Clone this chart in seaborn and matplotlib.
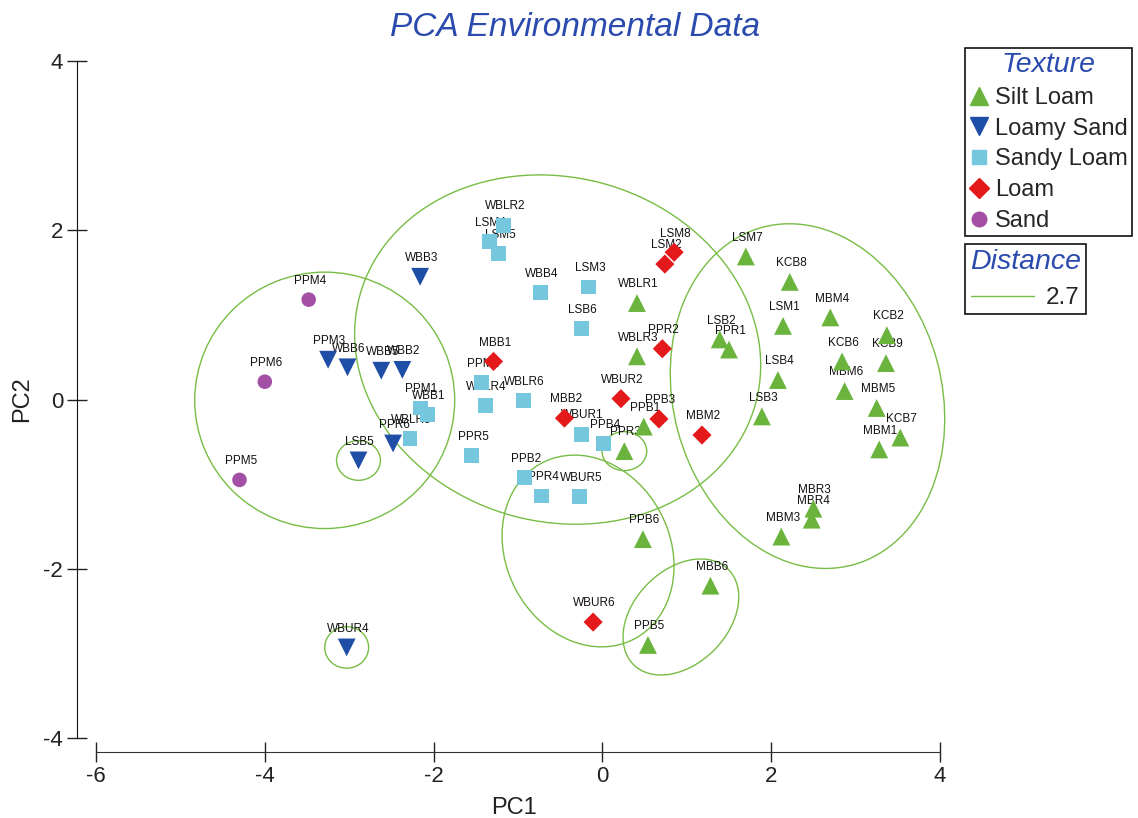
import matplotlib
matplotlib.use("Agg")
import matplotlib.pyplot as plt
from matplotlib.patches import Ellipse
from matplotlib.lines import Line2D
import pandas as pd
import seaborn as sns

# ---- PCA scores by soil texture ----
silt_loam_sites = ["WBLR1", "WBLR3", "PPB1", "PPR3", "LSM7", "KCB8", "LSM1", "MBM4",
                   "KCB2", "LSB2", "PPR1", "KCB6", "KCB9", "LSB4", "MBM6", "MBM5",
                   "LSB3", "KCB7", "MBM1", "MBR3", "MBR4", "MBM3", "MBB6", "PPB6", "PPB5"]
silt_loam_pc1 = [0.41, 0.41, 0.49, 0.26, 1.70, 2.22, 2.14, 2.70,
                 3.37, 1.39, 1.50, 2.84, 3.36, 2.08, 2.87, 3.25,
                 1.89, 3.53, 3.28, 2.50, 2.48, 2.12, 1.28, 0.48, 0.54]
silt_loam_pc2 = [1.14, 0.51, -0.32, -0.61, 1.69, 1.39, 0.87, 0.97,
                 0.76, 0.71, 0.59, 0.45, 0.43, 0.23, 0.10, -0.10,
                 -0.20, -0.45, -0.59, -1.29, -1.42, -1.62, -2.20, -1.65, -2.90]

loamy_sand_sites = ["WBB3", "PPM3", "WBB6", "WBB5", "WBB2", "PPR6", "LSB5", "WBUR4"]
loamy_sand_pc1 = [-2.16, -3.25, -3.02, -2.62, -2.37, -2.48, -2.89, -3.03]
loamy_sand_pc2 = [1.45, 0.47, 0.38, 0.34, 0.35, -0.52, -0.72, -2.93]

sandy_loam_sites = ["WBLR2", "LSM4", "LSM5", "WBB4", "LSM3", "LSB6", "PPM1", "WBB1",
                    "WBLR5", "PPM2", "WBLR4", "WBLR6", "PPR5", "WBUR1", "PPB4",
                    "PPB2", "PPR4", "WBUR5"]
sandy_loam_pc1 = [-1.17, -1.34, -1.23, -0.73, -0.16, -0.25, -2.16, -2.07,
                  -2.28, -1.43, -1.39, -0.94, -1.55, -0.25, 0.01,
                  -0.92, -0.72, -0.27]
sandy_loam_pc2 = [2.06, 1.87, 1.72, 1.26, 1.33, 0.84, -0.10, -0.18,
                  -0.46, 0.20, -0.07, -0.01, -0.66, -0.41, -0.52,
                  -0.92, -1.14, -1.15]

loam_sites = ["LSM8", "LSM2", "PPR2", "MBB1", "MBB2", "WBUR2", "PPB3", "MBM2", "WBUR6"]
loam_pc1 = [0.85, 0.74, 0.71, -1.29, -0.45, 0.22, 0.67, 1.18, -0.11]
loam_pc2 = [1.74, 1.60, 0.60, 0.45, -0.22, 0.01, -0.23, -0.42, -2.63]

sand_sites = ["PPM4", "PPM6", "PPM5"]
sand_pc1 = [-3.48, -4.00, -4.30]
sand_pc2 = [1.18, 0.21, -0.95]

# ---- cluster outlines at distance 2.7 (centre, width, height, rotation) ----
cluster_pc1 = [-3.29, -0.53, 2.43, -0.17, 0.93, -2.89, 0.26, -3.03]
cluster_pc2 = [-0.01, 0.59, 0.04, -1.79, -2.57, -0.72, -0.61, -2.93]
cluster_width = [3.08, 4.86, 3.18, 1.94, 1.59, 0.52, 0.53, 0.52]
cluster_height = [3.03, 4.07, 4.13, 2.35, 1.11, 0.47, 0.46, 0.49]
cluster_angle = [0, -15, 15, 28, 45, 0, 0, 0]
distance_cut = "2.7"

textures = ["Silt Loam", "Loamy Sand", "Sandy Loam", "Loam", "Sand"]

frames = []
for tex, sites, xs, ys in [
    ("Silt Loam", silt_loam_sites, silt_loam_pc1, silt_loam_pc2),
    ("Loamy Sand", loamy_sand_sites, loamy_sand_pc1, loamy_sand_pc2),
    ("Sandy Loam", sandy_loam_sites, sandy_loam_pc1, sandy_loam_pc2),
    ("Loam", loam_sites, loam_pc1, loam_pc2),
    ("Sand", sand_sites, sand_pc1, sand_pc2),
]:
    frames.append(pd.DataFrame({"Site": sites, "PC1": xs, "PC2": ys, "Texture": tex}))
df = pd.concat(frames, ignore_index=True)

# ---- styling ----
sns.set_style("white")
plt.rcParams["font.family"] = ["Liberation Sans", "DejaVu Sans"]
plt.rcParams["axes.unicode_minus"] = False

colors = {"Silt Loam": "#6ab43e", "Loamy Sand": "#1f4ea6", "Sandy Loam": "#74c7dc",
          "Loam": "#e3191c", "Sand": "#a34fa6"}
markers = {"Silt Loam": "^", "Loamy Sand": "v", "Sandy Loam": "s", "Loam": "D", "Sand": "o"}
sizes = {"Silt Loam": 165, "Loamy Sand": 165, "Sandy Loam": 115, "Loam": 95, "Sand": 110}
title_blue = "#2a4aae"
ring_green = "#77bd45"

fig = plt.figure(figsize=(11.38, 8.18), dpi=100)
ax = fig.add_axes([96 / 1138, 1 - 738 / 818, 844 / 1138, 677 / 818])

for cx, cy, w, h, a in zip(cluster_pc1, cluster_pc2, cluster_width, cluster_height, cluster_angle):
    ax.add_patch(Ellipse((cx, cy), w, h, angle=a, facecolor="none",
                         edgecolor=ring_green, linewidth=1.0, zorder=1, clip_on=False))

for _, row in df.iterrows():
    ax.annotate(row["Site"], (row["PC1"], row["PC2"]), xytext=(1, 13.5),
                textcoords="offset points", ha="center", va="center",
                fontsize=8.5, color="#111111", zorder=2)

for tex in textures:
    sub = df[df["Texture"] == tex]
    sns.scatterplot(data=sub, x="PC1", y="PC2", marker=markers[tex], s=sizes[tex],
                    color=colors[tex], edgecolor="none", linewidth=0, ax=ax,
                    legend=False, zorder=3)

ax.set_xlim(-6, 4)
ax.set_ylim(-4, 4)
ax.set_xticks([-6, -4, -2, 0, 2, 4])
ax.set_yticks([-4, -2, 0, 2, 4])
for side in ["top", "right"]:
    ax.spines[side].set_visible(False)
ax.spines["left"].set_position(("outward", 13.7))
ax.spines["bottom"].set_position(("outward", 10))
ax.spines["left"].set_color("#111111")
ax.spines["bottom"].set_color("#333333")
ax.tick_params(bottom=True, left=True, direction="inout", length=14, width=1,
               labelsize=16, colors="#222222", pad=3)

ax.set_xlabel("PC1", fontsize=17, color="#222222")
ax.set_ylabel("PC2", fontsize=17, color="#222222")
ax.xaxis.set_label_coords(0.495, -0.087)
ax.yaxis.set_label_coords(-0.075, 0.5)

fig.text(0.505, 1 - 28 / 818, "PCA Environmental Data", ha="center", va="center",
         fontsize=24, fontstyle="italic", color=title_blue)

# ---- legends ----
tex_handles = [Line2D([], [], linestyle="none", marker=markers[t], color=colors[t],
                      markersize=(13 if t in ("Silt Loam", "Loamy Sand") else 10.5))
               for t in textures]
leg1 = fig.legend(tex_handles, textures, loc="upper left",
                  bbox_to_anchor=(965 / 1138, 1 - 48 / 818), fontsize=17,
                  title="Texture", title_fontsize=20.5, frameon=True, fancybox=False,
                  edgecolor="#111111", framealpha=1, handlelength=0.8,
                  handletextpad=0.3, labelspacing=0.37, borderpad=0.18,
                  borderaxespad=0)
leg1.get_title().set_color(title_blue)
leg1.get_title().set_fontstyle("italic")
leg1.get_frame().set_linewidth(1.2)

dist_handle = [Line2D([], [], color=ring_green, linewidth=1.0)]
leg2 = fig.legend(dist_handle, [distance_cut], loc="upper left",
                  bbox_to_anchor=(965 / 1138, 1 - 244 / 818), fontsize=17.5,
                  title="Distance", title_fontsize=20.5, frameon=True, fancybox=False,
                  edgecolor="#111111", framealpha=1, handlelength=2.6,
                  handletextpad=0.5, borderpad=0.2, borderaxespad=0)
leg2.get_title().set_color(title_blue)
leg2.get_title().set_fontstyle("italic")
leg2.get_frame().set_linewidth(1.2)

fig.savefig("out.png", dpi=100, facecolor="white")
